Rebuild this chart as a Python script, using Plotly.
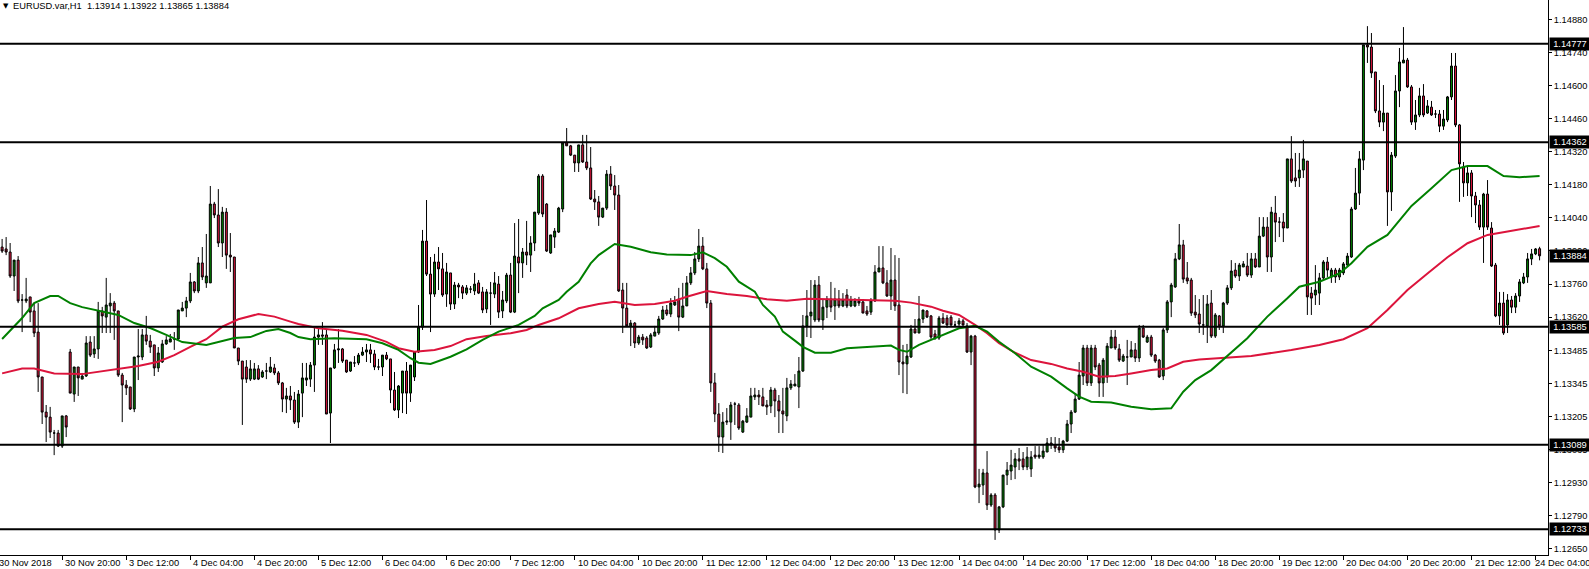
import plotly.graph_objects as go

# ---------------- data (EURUSD H1) ----------------
bars = list(range(385))  # bar sequence, 30 Nov 05:00 ... 24 Dec 05:00

open_ = [
1.13921,1.13913,1.13900,1.13799,1.13866,1.13698,1.13694,1.13711,1.13652,1.13563,
1.13374,1.13226,1.13205,1.13138,1.13138,1.13083,1.13210,1.13479,1.13302,1.13416,
1.13365,1.13378,1.13521,1.13471,1.13492,1.13652,1.13626,1.13673,1.13685,1.13652,
1.13382,1.13340,1.13332,1.13239,1.13458,1.13458,1.13551,1.13525,1.13509,1.13412,
1.13437,1.13513,1.13521,1.13534,1.13534,1.13652,1.13664,1.13694,1.13774,1.13736,
1.13854,1.13770,1.13770,1.14102,1.14056,1.13938,1.14068,1.13887,1.13879,1.13496,
1.13441,1.13416,1.13365,1.13365,1.13408,1.13374,1.13399,1.13395,1.13412,1.13391,
1.13349,1.13281,1.13294,1.13277,1.13184,1.13306,1.13361,1.13365,1.13424,1.13542,
1.13551,1.13551,1.13222,1.13412,1.13488,1.13492,1.13445,1.13399,1.13433,1.13433,
1.13466,1.13479,1.13488,1.13471,1.13416,1.13416,1.13466,1.13450,1.13319,1.13235,
1.13306,1.13399,1.13306,1.13374,1.13479,1.13584,1.13946,1.13807,1.13723,1.13858,
1.13829,1.13723,1.13812,1.13681,1.13761,1.13753,1.13727,1.13744,1.13736,1.13770,
1.13732,1.13660,1.13727,1.13723,1.13765,1.13652,1.13694,1.13803,1.13647,1.13879,
1.13854,1.13900,1.13887,1.13938,1.14064,1.14220,1.14102,1.13896,1.13963,1.13984,
1.14081,1.14359,1.14347,1.14308,1.14275,1.14351,1.14279,1.14254,1.14123,1.14111,
1.14047,1.14085,1.14228,1.14178,1.14140,1.13740,1.13664,1.13589,1.13601,1.13517,
1.13542,1.13538,1.13500,1.13546,1.13559,1.13618,1.13656,1.13639,1.13677,1.13702,
1.13626,1.13673,1.13770,1.13812,1.13871,1.13925,1.13829,1.13685,1.13349,1.13218,
1.13121,1.13184,1.13184,1.13260,1.13256,1.13142,1.13184,1.13205,1.13290,1.13298,
1.13290,1.13256,1.13252,1.13319,1.13273,1.13231,1.13210,1.13328,1.13336,1.13332,
1.13399,1.13589,1.13631,1.13614,1.13761,1.13614,1.13668,1.13702,1.13673,1.13702,
1.13673,1.13719,1.13673,1.13673,1.13694,1.13690,1.13652,1.13647,1.13694,1.13816,
1.13833,1.13770,1.13715,1.13782,1.13677,1.13437,1.13429,1.13458,1.13576,1.13559,
1.13618,1.13652,1.13631,1.13555,1.13538,1.13622,1.13622,1.13626,1.13593,1.13597,
1.13610,1.13589,1.13479,1.13546,1.12911,1.12919,1.12970,1.12835,1.12877,1.12730,
1.12827,1.12961,1.12978,1.12995,1.13029,1.13029,1.12995,1.12987,1.13045,1.13037,
1.13037,1.13058,1.13096,1.13088,1.13079,1.13067,1.13104,1.13176,1.13226,1.13281,
1.13378,1.13496,1.13349,1.13496,1.13424,1.13349,1.13374,1.13496,1.13542,1.13492,
1.13441,1.13458,1.13458,1.13488,1.13454,1.13580,1.13521,1.13542,1.13466,1.13445,
1.13378,1.13572,1.13690,1.13753,1.13871,1.13930,1.13791,1.13782,1.13647,1.13639,
1.13593,1.13589,1.13685,1.13546,1.13631,1.13589,1.13685,1.13749,1.13824,1.13799,
1.13837,1.13841,1.13803,1.13871,1.13837,1.13967,1.14005,1.13879,1.14064,1.14026,
1.14026,1.14001,1.14292,1.14212,1.14212,1.14245,1.14283,1.13727,1.13719,1.13727,
1.13791,1.13858,1.13795,1.13824,1.13795,1.13812,1.13845,1.13879,1.14081,1.14148,
1.14287,1.14772,1.14763,1.14658,1.14494,1.14447,1.14485,1.14153,1.14304,1.14578,
1.14696,1.14708,1.14595,1.14447,1.14477,1.14557,1.14485,1.14510,1.14481,1.14481,
1.14430,1.14456,1.14553,1.14683,1.14435,1.14258,1.14191,1.14233,1.14136,1.14098,
1.14005,1.14144,1.14001,1.13845,1.13631,1.13685,1.13593,1.13698,1.13668,1.13715,
1.13770,1.13795,1.13871,1.13892,1.13914]

high = [
1.13955,1.13963,1.13938,1.13866,1.13883,1.13723,1.13791,1.13711,1.13685,1.13685,
1.13374,1.13256,1.13248,1.13151,1.13151,1.13210,1.13214,1.13492,1.13416,1.13416,
1.13391,1.13546,1.13546,1.13546,1.13690,1.13669,1.13791,1.13727,1.13694,1.13652,
1.13391,1.13361,1.13332,1.13458,1.13576,1.13576,1.13631,1.13551,1.13509,1.13500,
1.13530,1.13546,1.13555,1.13563,1.13656,1.13690,1.13711,1.13812,1.13778,1.13879,
1.13921,1.13976,1.14178,1.14111,1.14165,1.14090,1.14085,1.13980,1.13879,1.13496,
1.13441,1.13445,1.13445,1.13433,1.13424,1.13403,1.13433,1.13458,1.13429,1.13399,
1.13353,1.13328,1.13336,1.13311,1.13319,1.13433,1.13433,1.13437,1.13584,1.13576,
1.13605,1.13572,1.13412,1.13513,1.13576,1.13496,1.13445,1.13437,1.13462,1.13475,
1.13500,1.13513,1.13513,1.13488,1.13450,1.13466,1.13479,1.13450,1.13395,1.13340,
1.13399,1.13437,1.13424,1.13479,1.13677,1.13993,1.14119,1.13879,1.13892,1.13921,
1.13896,1.13854,1.13812,1.13774,1.13770,1.13761,1.13761,1.13757,1.13812,1.13782,
1.13753,1.13744,1.13774,1.13816,1.13799,1.13736,1.13812,1.13854,1.14022,1.14039,
1.13917,1.14031,1.13967,1.14068,1.14228,1.14228,1.14106,1.13972,1.14001,1.14090,
1.14359,1.14422,1.14351,1.14308,1.14351,1.14393,1.14393,1.14342,1.14161,1.14136,
1.14085,1.14245,1.14262,1.14224,1.14182,1.13770,1.13770,1.13614,1.13605,1.13551,
1.13555,1.13546,1.13559,1.13589,1.13631,1.13673,1.13677,1.13706,1.13715,1.13749,
1.13770,1.13799,1.13837,1.13900,1.13997,1.13963,1.13854,1.13698,1.13391,1.13264,
1.13226,1.13243,1.13269,1.13269,1.13264,1.13193,1.13243,1.13328,1.13328,1.13319,
1.13328,1.13277,1.13332,1.13328,1.13298,1.13328,1.13370,1.13361,1.13386,1.13458,
1.13635,1.13740,1.13782,1.13782,1.13799,1.13698,1.13715,1.13774,1.13749,1.13740,
1.13727,1.13744,1.13715,1.13706,1.13711,1.13698,1.13673,1.13706,1.13845,1.13925,
1.13925,1.13824,1.13917,1.13887,1.13875,1.13509,1.13513,1.13593,1.13618,1.13715,
1.13656,1.13656,1.13635,1.13572,1.13631,1.13643,1.13635,1.13635,1.13610,1.13622,
1.13618,1.13601,1.13551,1.13551,1.12987,1.12987,1.13062,1.12885,1.12885,1.12831,
1.12961,1.13016,1.13067,1.13054,1.13075,1.13058,1.13079,1.13062,1.13083,1.13083,
1.13092,1.13117,1.13121,1.13121,1.13117,1.13109,1.13193,1.13235,1.13306,1.13437,
1.13509,1.13509,1.13509,1.13509,1.13433,1.13454,1.13517,1.13572,1.13572,1.13513,
1.13471,1.13530,1.13525,1.13517,1.13593,1.13593,1.13551,1.13551,1.13471,1.13450,
1.13580,1.13698,1.13770,1.13896,1.14018,1.13951,1.13858,1.13791,1.13719,1.13702,
1.13719,1.13719,1.13740,1.13643,1.13635,1.13690,1.13761,1.13866,1.13854,1.13854,
1.13862,1.13896,1.13896,1.13896,1.14047,1.14047,1.14047,1.14090,1.14136,1.14047,
1.14064,1.14292,1.14388,1.14317,1.14317,1.14372,1.14283,1.13753,1.13845,1.13812,
1.13866,1.13879,1.13833,1.13833,1.13833,1.13858,1.13896,1.14090,1.14254,1.14325,
1.14772,1.14851,1.14822,1.14658,1.14624,1.14603,1.14485,1.14321,1.14645,1.14759,
1.14847,1.14717,1.14603,1.14540,1.14591,1.14607,1.14540,1.14536,1.14498,1.14498,
1.14498,1.14557,1.14738,1.14738,1.14439,1.14279,1.14262,1.14245,1.14153,1.14119,
1.14149,1.14203,1.14026,1.13854,1.13732,1.13732,1.13723,1.13715,1.13727,1.13786,
1.13812,1.13896,1.13913,1.13917,1.13922]

low = [
1.13896,1.13887,1.13791,1.13736,1.13685,1.13563,1.13685,1.13605,1.13542,1.13311,
1.13176,1.13100,1.13117,1.13045,1.13079,1.13075,1.13121,1.13306,1.13269,1.13294,
1.13365,1.13374,1.13458,1.13454,1.13450,1.13559,1.13559,1.13559,1.13530,1.13374,
1.13184,1.13298,1.13235,1.13226,1.13361,1.13445,1.13509,1.13475,1.13378,1.13395,
1.13433,1.13509,1.13521,1.13488,1.13530,1.13652,1.13626,1.13685,1.13727,1.13727,
1.13782,1.13749,1.13770,1.14043,1.13921,1.13879,1.13829,1.13816,1.13496,1.13424,
1.13172,1.13349,1.13357,1.13361,1.13361,1.13370,1.13365,1.13391,1.13382,1.13340,
1.13226,1.13222,1.13235,1.13176,1.13159,1.13205,1.13336,1.13332,1.13311,1.13509,
1.13509,1.13218,1.13096,1.13408,1.13433,1.13433,1.13391,1.13395,1.13416,1.13424,
1.13462,1.13437,1.13433,1.13403,1.13403,1.13378,1.13445,1.13264,1.13231,1.13201,
1.13222,1.13218,1.13269,1.13357,1.13475,1.13572,1.13799,1.13563,1.13711,1.13740,
1.13711,1.13669,1.13656,1.13660,1.13706,1.13702,1.13719,1.13727,1.13719,1.13723,
1.13643,1.13643,1.13593,1.13706,1.13622,1.13622,1.13685,1.13643,1.13643,1.13727,
1.13791,1.13845,1.13816,1.13904,1.14056,1.14047,1.13900,1.13892,1.13917,1.13980,
1.14068,1.14347,1.14304,1.14237,1.14237,1.14275,1.14245,1.14119,1.14077,1.14010,
1.14043,1.14077,1.14161,1.14077,1.13732,1.13559,1.13584,1.13504,1.13496,1.13509,
1.13509,1.13492,1.13496,1.13546,1.13551,1.13614,1.13631,1.13626,1.13673,1.13567,
1.13622,1.13673,1.13761,1.13803,1.13858,1.13824,1.13664,1.13311,1.13184,1.13058,
1.13054,1.13172,1.13109,1.13172,1.13151,1.13138,1.13180,1.13205,1.13277,1.13256,
1.13252,1.13214,1.13222,1.13205,1.13138,1.13138,1.13188,1.13319,1.13336,1.13243,
1.13395,1.13542,1.13538,1.13605,1.13605,1.13572,1.13622,1.13647,1.13614,1.13664,
1.13668,1.13664,1.13668,1.13668,1.13673,1.13643,1.13631,1.13635,1.13690,1.13816,
1.13765,1.13711,1.13656,1.13652,1.13382,1.13306,1.13302,1.13454,1.13559,1.13559,
1.13601,1.13622,1.13534,1.13530,1.13530,1.13597,1.13580,1.13584,1.13584,1.13584,
1.13589,1.13475,1.13424,1.12906,1.12843,1.12877,1.12814,1.12827,1.12688,1.12717,
1.12822,1.12919,1.12940,1.12944,1.12982,1.12982,1.12982,1.12953,1.13029,1.13029,
1.13029,1.13058,1.13071,1.13058,1.13054,1.13054,1.13100,1.13138,1.13222,1.13277,
1.13340,1.13336,1.13336,1.13403,1.13290,1.13290,1.13349,1.13496,1.13488,1.13437,
1.13437,1.13340,1.13458,1.13437,1.13437,1.13538,1.13517,1.13458,1.13433,1.13370,
1.13361,1.13559,1.13626,1.13749,1.13866,1.13770,1.13765,1.13631,1.13622,1.13559,
1.13551,1.13517,1.13538,1.13538,1.13572,1.13559,1.13677,1.13740,1.13791,1.13778,
1.13837,1.13795,1.13791,1.13833,1.13837,1.13963,1.13816,1.13816,1.13942,1.13963,
1.13942,1.14001,1.14191,1.14174,1.14174,1.14212,1.13635,1.13635,1.13677,1.13677,
1.13782,1.13795,1.13770,1.13770,1.13782,1.13803,1.13837,1.13875,1.14077,1.14098,
1.14245,1.14696,1.14633,1.14485,1.14426,1.14409,1.14010,1.14073,1.14296,1.14510,
1.14696,1.14591,1.14435,1.14414,1.14468,1.14468,1.14481,1.14473,1.14464,1.14405,
1.14414,1.14447,1.14540,1.14426,1.14111,1.14132,1.14136,1.14047,1.14022,1.13993,
1.13854,1.13993,1.13837,1.13626,1.13593,1.13551,1.13559,1.13643,1.13643,1.13690,
1.13765,1.13770,1.13845,1.13887,1.13865]

close = [
1.13904,1.13900,1.13799,1.13866,1.13694,1.13698,1.13702,1.13647,1.13559,1.13374,
1.13226,1.13205,1.13142,1.13138,1.13083,1.13210,1.13163,1.13306,1.13416,1.13370,
1.13378,1.13517,1.13466,1.13492,1.13652,1.13631,1.13677,1.13685,1.13652,1.13382,
1.13340,1.13328,1.13239,1.13458,1.13462,1.13551,1.13525,1.13500,1.13412,1.13475,
1.13513,1.13530,1.13534,1.13534,1.13656,1.13664,1.13694,1.13774,1.13736,1.13854,
1.13795,1.13799,1.14102,1.14056,1.13938,1.14068,1.13887,1.13879,1.13496,1.13441,
1.13365,1.13365,1.13408,1.13408,1.13365,1.13395,1.13399,1.13416,1.13391,1.13349,
1.13281,1.13294,1.13277,1.13184,1.13302,1.13370,1.13370,1.13424,1.13542,1.13551,
1.13546,1.13218,1.13412,1.13488,1.13492,1.13441,1.13395,1.13437,1.13433,1.13466,
1.13479,1.13488,1.13471,1.13416,1.13416,1.13466,1.13450,1.13319,1.13235,1.13336,
1.13399,1.13306,1.13424,1.13479,1.13584,1.13946,1.13807,1.13723,1.13858,1.13829,
1.13719,1.13816,1.13681,1.13761,1.13753,1.13727,1.13749,1.13744,1.13765,1.13727,
1.13656,1.13732,1.13727,1.13770,1.13647,1.13698,1.13803,1.13647,1.13883,1.13854,
1.13900,1.13887,1.13938,1.14068,1.14220,1.14060,1.13904,1.13972,1.13988,1.14085,
1.14359,1.14347,1.14308,1.14275,1.14351,1.14279,1.14254,1.14123,1.14111,1.14047,
1.14085,1.14228,1.14178,1.14140,1.13736,1.13664,1.13589,1.13601,1.13517,1.13542,
1.13530,1.13496,1.13551,1.13563,1.13618,1.13656,1.13639,1.13685,1.13690,1.13626,
1.13673,1.13770,1.13812,1.13871,1.13925,1.13829,1.13685,1.13349,1.13218,1.13121,
1.13184,1.13188,1.13256,1.13260,1.13159,1.13188,1.13210,1.13294,1.13298,1.13290,
1.13252,1.13248,1.13319,1.13273,1.13231,1.13218,1.13328,1.13344,1.13344,1.13399,
1.13589,1.13631,1.13647,1.13761,1.13614,1.13668,1.13702,1.13668,1.13702,1.13673,
1.13698,1.13673,1.13698,1.13694,1.13685,1.13643,1.13639,1.13694,1.13816,1.13833,
1.13770,1.13715,1.13782,1.13673,1.13437,1.13429,1.13462,1.13576,1.13559,1.13618,
1.13656,1.13626,1.13542,1.13538,1.13622,1.13601,1.13593,1.13593,1.13593,1.13610,
1.13593,1.13479,1.13546,1.12911,1.12923,1.12970,1.12835,1.12877,1.12730,1.12827,
1.12961,1.12982,1.13003,1.13029,1.13020,1.12995,1.13037,1.13037,1.13037,1.13045,
1.13062,1.13096,1.13088,1.13075,1.13067,1.13104,1.13176,1.13226,1.13281,1.13382,
1.13496,1.13349,1.13496,1.13416,1.13349,1.13445,1.13504,1.13542,1.13496,1.13445,
1.13462,1.13458,1.13488,1.13454,1.13580,1.13542,1.13542,1.13466,1.13441,1.13374,
1.13572,1.13690,1.13761,1.13871,1.13930,1.13786,1.13778,1.13643,1.13635,1.13597,
1.13593,1.13681,1.13546,1.13635,1.13589,1.13685,1.13749,1.13820,1.13799,1.13845,
1.13850,1.13803,1.13871,1.13837,1.13967,1.14005,1.13879,1.14068,1.14026,1.14026,
1.14001,1.14292,1.14199,1.14199,1.14245,1.14292,1.13711,1.13706,1.13740,1.13791,
1.13858,1.13824,1.13824,1.13795,1.13824,1.13850,1.13883,1.14081,1.14148,1.14292,
1.14772,1.14763,1.14654,1.14494,1.14447,1.14485,1.14153,1.14308,1.14578,1.14700,
1.14708,1.14595,1.14447,1.14477,1.14557,1.14477,1.14515,1.14477,1.14481,1.14430,
1.14460,1.14553,1.14683,1.14435,1.14271,1.14191,1.14233,1.14136,1.14098,1.14005,
1.14144,1.14005,1.13841,1.13631,1.13685,1.13559,1.13698,1.13668,1.13715,1.13774,
1.13795,1.13871,1.13892,1.13913,1.13884]

# moving averages (at these bars)
ma_fast_bars = [0,5,8,12,14,17,20,24,29,33,37,41,45,49,51,54,58,62,66,69,72,74,77,83,91,95,99,102,104,107,
                112,116,120,124,129,133,135,139,141,144,147,149,153,157,162,166,172,175,178,181,184,188,190,193,195,198,
                200,203,207,211,216,222,224,226,229,234,239,243,246,249,253,257,262,266,269,272,277,282,287,292,295,298,
                302,311,316,321,324,329,334,337,341,346,349,352,357,362,366,371,375,379,384]
ma_fast = [1.13534,1.13622,1.13685,1.13715,1.13715,1.13685,1.13668,1.13652,1.13635,1.13601,1.13580,1.13551,1.13521,
           1.13513,1.13509,1.13521,1.13538,1.13542,1.13568,1.13576,1.13559,1.13542,1.13533,1.13537,1.13533,1.13516,
           1.13488,1.13453,1.13434,1.13429,1.13459,1.13490,1.13530,1.13565,1.13593,1.13631,1.13663,1.13698,1.13733,
           1.13775,1.13852,1.13887,1.13934,1.13922,1.13899,1.13890,1.13887,1.13899,1.13874,1.13838,1.13775,1.13733,
           1.13677,1.13628,1.13565,1.13527,1.13501,1.13476,1.13476,1.13495,1.13501,1.13506,1.13488,1.13480,1.13509,
           1.13544,1.13579,1.13589,1.13565,1.13522,1.13474,1.13417,1.13375,1.13326,1.13291,1.13270,1.13266,1.13249,
           1.13238,1.13242,1.13312,1.13361,1.13403,1.13537,1.13628,1.13705,1.13754,1.13775,1.13810,1.13853,1.13922,
           1.13972,1.14035,1.14094,1.14168,1.14245,1.14262,1.14262,1.14220,1.14215,1.14220]

ma_slow_bars = [0,5,8,13,20,24,29,34,39,43,47,51,55,59,64,68,72,74,79,85,91,96,99,103,108,112,116,121,127,131,134,
                139,144,149,153,158,163,168,171,176,181,186,191,196,201,207,216,223,227,229,232,235,239,243,246,249,
                253,257,262,266,270,274,278,282,287,291,295,299,312,322,329,335,341,346,351,356,361,366,371,376,381,384]
ma_slow = [1.13389,1.13410,1.13410,1.13389,1.13386,1.13396,1.13410,1.13420,1.13438,1.13466,1.13501,1.13533,1.13586,
           1.13617,1.13639,1.13628,1.13607,1.13597,1.13579,1.13569,1.13551,1.13522,1.13495,1.13480,1.13488,1.13504,
           1.13533,1.13546,1.13558,1.13572,1.13593,1.13621,1.13663,1.13681,1.13691,1.13677,1.13681,1.13695,1.13712,
           1.13736,1.13723,1.13715,1.13701,1.13695,1.13703,1.13701,1.13695,1.13695,1.13687,1.13681,1.13670,1.13653,
           1.13635,1.13593,1.13558,1.13516,1.13476,1.13445,1.13429,1.13410,1.13396,1.13375,1.13378,1.13389,1.13403,
           1.13410,1.13438,1.13448,1.13462,1.13488,1.13509,1.13533,1.13579,1.13656,1.13740,1.13810,1.13878,1.13937,
           1.13972,1.13986,1.14000,1.14010]

levels = [1.14777, 1.14362, 1.13585, 1.13089, 1.12733]
level_text = ["1.14777", "1.14362", "1.13585", "1.13089", "1.12733"]
last_price = 1.13884
last_text = "1.13884"

ytick_vals = [1.14880, 1.147406, 1.146013, 1.144619, 1.143225, 1.141831, 1.140438, 1.139044, 1.137650,
              1.136256, 1.134863, 1.133469, 1.132075, 1.130681, 1.129288, 1.127894, 1.126500]
ytick_text = ["1.14880", "1.14740", "1.14600", "1.14460", "1.14320", "1.14180", "1.14040", "1.13900", "1.13760",
              "1.13620", "1.13485", "1.13345", "1.13205", "1.13065", "1.12930", "1.12790", "1.12650"]

date_bars = [15, 31, 47, 63, 79, 95, 111, 127, 143, 159, 175, 191, 207, 223, 239, 255, 271, 287, 303, 319, 335, 351, 367, 383]
date_text = ["30 Nov 20:00", "3 Dec 12:00", "4 Dec 04:00", "4 Dec 20:00", "5 Dec 12:00", "6 Dec 04:00",
             "6 Dec 20:00", "7 Dec 12:00", "10 Dec 04:00", "10 Dec 20:00", "11 Dec 12:00", "12 Dec 04:00",
             "12 Dec 20:00", "13 Dec 12:00", "14 Dec 04:00", "14 Dec 20:00", "17 Dec 12:00", "18 Dec 04:00",
             "18 Dec 20:00", "19 Dec 12:00", "20 Dec 04:00", "20 Dec 20:00", "21 Dec 12:00", "24 Dec 04:00"]
first_date = "30 Nov 2018"
title_text = "EURUSD.var,H1  1.13914 1.13922 1.13865 1.13884"

# ---------------- figure ----------------
FONT = "Liberation Sans, Arial, sans-serif"
GREEN = "#008000"
RED = "#DC143C"

fig = go.Figure()
fig.add_trace(go.Candlestick(
    x=bars, open=open_, high=high, low=low, close=close,
    increasing=dict(line=dict(color="black", width=1), fillcolor=GREEN),
    decreasing=dict(line=dict(color="black", width=1), fillcolor=RED),
    whiskerwidth=0, hoverinfo="skip", showlegend=False))
fig.add_trace(go.Scatter(x=ma_slow_bars, y=ma_slow, mode="lines",
                         line=dict(color=RED, width=2), hoverinfo="skip", showlegend=False))
fig.add_trace(go.Scatter(x=ma_fast_bars, y=ma_fast, mode="lines",
                         line=dict(color=GREEN, width=2), hoverinfo="skip", showlegend=False))

for v in levels:
    fig.add_shape(type="line", xref="paper", x0=0, x1=1, yref="y", y0=v, y1=v,
                  line=dict(color="black", width=2), layer="above")

for v, t in list(zip(levels, level_text)) + [(last_price, last_text)]:
    fig.add_annotation(xref="paper", x=1, xanchor="left", xshift=1, yref="y", y=v,
                       text=t, showarrow=False, bgcolor="black", borderpad=1, width=38, align="center",
                       font=dict(family=FONT, size=9.3, color="white"))

for k, (b, t) in enumerate(zip(date_bars, date_text)):
    shift = -3 if k == len(date_bars) - 1 else 1
    fig.add_annotation(xref="x", x=b, xanchor="left", xshift=shift, yref="paper", y=0, yanchor="top",
                       yshift=-1, text=t, showarrow=False,
                       font=dict(family=FONT, size=9.3, color="black"))
fig.add_annotation(xref="paper", x=0, xanchor="left", xshift=-3, yref="paper", y=0, yanchor="top",
                   yshift=-1, text=first_date, showarrow=False,
                   font=dict(family=FONT, size=9.3, color="black"))

fig.add_annotation(xref="paper", x=0, xanchor="left", xshift=1, yref="paper", y=1, yanchor="top",
                   yshift=0, text="▼", showarrow=False, font=dict(family="DejaVu Sans", size=7, color="black"))
fig.add_annotation(xref="paper", x=0, xanchor="left", xshift=11, yref="paper", y=1, yanchor="top",
                   yshift=1, text=title_text, showarrow=False, font=dict(family=FONT, size=9.3, color="black"))

fig.update_layout(
    template="none",
    width=1589, height=569,
    margin=dict(l=0, r=41, t=0, b=14, pad=0),
    paper_bgcolor="white", plot_bgcolor="white",
    showlegend=False, hovermode=False,
    xaxis=dict(range=[-0.53, 386.1], showline=True, linecolor="black", linewidth=1,
               ticks="outside", ticklen=4, tickcolor="black", tickwidth=1,
               tickvals=date_bars, showticklabels=False,
               showgrid=False, zeroline=False, rangeslider=dict(visible=False), fixedrange=True),
    yaxis=dict(range=[1.126245, 1.14961], side="right", showline=True, linecolor="black", linewidth=1,
               ticks="outside", ticklen=3, tickcolor="black", tickwidth=1,
               tickvals=ytick_vals, ticktext=ytick_text,
               tickfont=dict(family=FONT, size=9.3, color="black"),
               showgrid=False, zeroline=False, fixedrange=True),
)

fig.write_html("out.html", config={"displayModeBar": False},
               post_script="document.body.style.margin='0';document.body.style.padding='0';")
